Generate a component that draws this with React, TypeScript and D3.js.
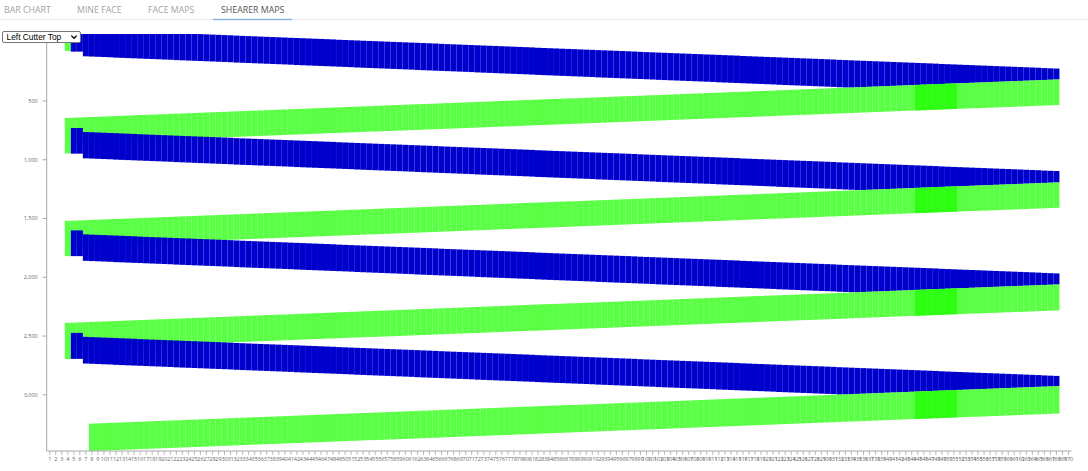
import React from "react";
import * as d3 from "d3";

// ---------- categories / labels ----------
const chocks = [1,2,3,4,5,6,7,8,9,10,11,12,13,14,15,16,17,18,19,20,21,22,23,24,25,26,27,28,29,30,31,32,33,34,35,36,37,38,39,40,41,42,43,44,45,46,47,48,49,50,51,52,53,54,55,56,57,58,59,60,61,62,63,64,65,66,67,68,69,70,71,72,73,74,75,76,77,78,79,80,81,82,83,84,85,86,87,88,89,90,91,92,93,94,95,96,97,98,99,100,101,102,103,104,105,106,107,108,109,110,111,112,113,114,115,116,117,118,119,120,121,122,123,124,125,126,127,128,129,130,131,132,133,134,135,136,137,138,139,140,141,142,143,144,145,146,147,148,149,150,151,152,153,154,155,156,157,158,159,160,161,162,163,164,165,166,167,168,169,170];
const tabLabels = ["BAR CHART", "MINE FACE", "FACE MAPS", "SHEARER MAPS"];
const activeTab = "SHEARER MAPS";
const cutterOptions = ["Left Cutter Top", "Left Cutter Bottom", "Right Cutter Top", "Right Cutter Bottom"];
const yTickValues = [0, 500, 1000, 1500, 2000, 2500, 3000];
const yLabelledTicks = [500, 1000, 1500, 2000, 2500, 3000];
const reworkChocks = [145, 146, 147, 148, 149, 150, 151];

// ---------- passes (start / end per chock) ----------
const g0Start = [-70];
const g0End = [74];

const b1Start = [-70,-70,-70,-70,-70,-70,-70,-70,-70,-70,-70,-70,-70,-70,-70,-70,-70,-70,-70,-70,-70,-69,-67,-65,-63,-61,-59,-56,-54,-52,-50,-48,-46,-44,-42,-40,-38,-36,-34,-32,-30,-28,-26,-24,-21,-19,-17,-15,-13,-11,-9,-7,-5,-3,-1,1,3,5,7,9,11,14,16,18,20,22,24,26,28,30,32,34,36,38,40,42,44,47,49,51,53,55,57,59,61,63,65,67,69,71,73,75,77,79,82,84,86,88,90,92,94,96,98,100,102,104,106,108,110,112,114,117,119,121,123,125,127,129,131,133,135,137,139,141,143,145,147,150,152,154,156,158,160,162,164,166,168,170,172,174,176,178,180,182,185,187,189,191,193,195,197,199,201,203,205,207,209,211,213,215,217,220,222,224];
const b1End = [80,80,120,122,124,126,128,131,133,135,137,139,141,143,145,147,149,152,154,156,158,160,162,164,166,168,170,173,175,177,179,181,183,185,187,189,191,194,196,198,200,202,204,206,208,210,212,215,217,219,221,223,225,227,229,231,233,236,238,240,242,244,246,248,250,252,254,257,259,261,263,265,267,269,271,273,275,278,280,282,284,286,288,290,292,294,296,299,301,303,305,307,309,311,313,315,317,320,322,324,326,328,330,332,334,336,338,341,343,345,347,349,351,353,355,357,359,362,364,366,368,370,372,374,376,378,380,383,385,385,383,381,379,377,375,373,371,369,367,365,363,361,359,357,355,353,351,349,347,345,343,341,339,337,335,333,331,329,327,325,323,321,319,317];

const g1Start = [644,642,640,638,636,634,632,630,628,626,624,622,620,618,616,614,612,610,608,606,604,602,600,598,596,594,592,590,588,586,584,582,580,578,576,574,572,570,568,566,564,562,560,558,556,554,552,550,548,546,544,542,540,538,536,534,532,530,528,526,524,522,520,518,516,514,512,510,508,506,504,502,500,498,496,494,492,490,488,486,484,482,480,478,477,475,473,471,469,467,465,463,461,459,457,455,453,451,449,447,445,443,441,439,437,435,433,431,429,427,425,423,421,419,417,415,413,411,409,407,405,403,401,399,397,395,393,391,389,387,385,383,381,379,377,375,373,371,369,367,365,363,361,359,357,355,353,351,349,347,345,343,341,339,337,335,333,331,329,327,325,323,321,319,317];
const g1End = [946,859,857,855,853,851,849,847,845,843,841,839,837,835,833,831,829,827,825,823,821,819,817,815,813,811,809,807,805,803,801,799,797,795,793,791,789,787,785,783,781,779,777,775,773,771,769,767,765,763,761,760,758,756,754,752,750,748,746,744,742,740,738,736,734,732,730,728,726,724,722,720,718,716,714,712,710,708,706,704,702,700,698,696,694,692,690,688,686,684,682,680,678,676,674,672,670,668,666,664,662,660,658,656,654,652,650,648,646,644,642,640,638,636,634,632,630,628,626,624,622,620,618,616,614,612,610,608,606,604,602,600,598,596,594,592,590,588,586,584,582,580,578,576,574,572,570,568,566,564,562,561,559,557,555,553,551,549,547,545,543,541,539,537,535];

const b2Start = [730,730,764,766,768,770,772,774,776,778,780,783,785,787,789,791,793,795,797,799,801,803,805,807,809,811,813,816,818,820,822,824,826,828,830,832,834,836,838,840,842,844,846,848,851,853,855,857,859,861,863,865,867,869,871,873,875,877,879,881,883,886,888,890,892,894,896,898,900,902,904,906,908,910,912,914,916,919,921,923,925,927,929,931,933,935,937,939,941,943,945,947,949,951,954,956,958,960,962,964,966,968,970,972,974,976,978,980,982,984,986,989,991,993,995,997,999,1001,1003,1005,1007,1009,1011,1013,1015,1017,1019,1022,1024,1026,1028,1030,1032,1034,1036,1038,1040,1042,1044,1046,1048,1050,1052,1054,1057,1059,1061,1063,1065,1067,1069,1071,1073,1075,1077,1079,1081,1083,1085,1087,1089,1092,1094,1096];
const b2End = [948,948,988,990,992,994,996,999,1001,1003,1005,1007,1009,1011,1013,1015,1017,1020,1022,1024,1026,1028,1030,1032,1034,1036,1038,1041,1043,1045,1047,1049,1051,1053,1055,1057,1059,1062,1064,1066,1068,1070,1072,1074,1076,1078,1080,1083,1085,1087,1089,1091,1093,1095,1097,1099,1101,1104,1106,1108,1110,1112,1114,1116,1118,1120,1122,1125,1127,1129,1131,1133,1135,1137,1139,1141,1143,1146,1148,1150,1152,1154,1156,1158,1160,1162,1164,1167,1169,1171,1173,1175,1177,1179,1181,1183,1185,1188,1190,1192,1194,1196,1198,1200,1202,1204,1206,1209,1211,1213,1215,1217,1219,1221,1223,1225,1227,1230,1232,1234,1236,1238,1240,1242,1244,1246,1248,1251,1253,1255,1257,1257,1255,1253,1251,1249,1247,1245,1243,1241,1239,1237,1235,1233,1231,1229,1227,1225,1223,1221,1219,1217,1215,1213,1211,1209,1207,1205,1203,1201,1199,1197,1195,1193];

const g2Start = [1520,1518,1516,1514,1512,1510,1508,1506,1504,1502,1500,1498,1496,1494,1492,1490,1488,1486,1484,1482,1480,1478,1476,1474,1472,1470,1468,1466,1464,1462,1460,1458,1456,1454,1452,1450,1448,1446,1444,1442,1440,1438,1436,1434,1432,1430,1428,1426,1424,1422,1420,1418,1416,1414,1412,1410,1408,1406,1404,1402,1400,1398,1396,1394,1392,1390,1388,1386,1384,1382,1380,1378,1376,1374,1372,1370,1368,1366,1364,1362,1360,1358,1356,1354,1353,1351,1349,1347,1345,1343,1341,1339,1337,1335,1333,1331,1329,1327,1325,1323,1321,1319,1317,1315,1313,1311,1309,1307,1305,1303,1301,1299,1297,1295,1293,1291,1289,1287,1285,1283,1281,1279,1277,1275,1273,1271,1269,1267,1265,1263,1261,1259,1257,1255,1253,1251,1249,1247,1245,1243,1241,1239,1237,1235,1233,1231,1229,1227,1225,1223,1221,1219,1217,1215,1213,1211,1209,1207,1205,1203,1201,1199,1197,1195,1193];
const g2End = [1820,1733,1731,1729,1727,1725,1723,1721,1719,1717,1715,1713,1711,1709,1707,1705,1703,1701,1699,1697,1695,1693,1691,1689,1687,1685,1683,1681,1679,1677,1675,1673,1671,1669,1667,1665,1663,1661,1659,1657,1655,1653,1651,1649,1647,1645,1643,1641,1639,1637,1635,1634,1632,1630,1628,1626,1624,1622,1620,1618,1616,1614,1612,1610,1608,1606,1604,1602,1600,1598,1596,1594,1592,1590,1588,1586,1584,1582,1580,1578,1576,1574,1572,1570,1568,1566,1564,1562,1560,1558,1556,1554,1552,1550,1548,1546,1544,1542,1540,1538,1536,1534,1532,1530,1528,1526,1524,1522,1520,1518,1516,1514,1512,1510,1508,1506,1504,1502,1500,1498,1496,1494,1492,1490,1488,1486,1484,1482,1480,1478,1476,1474,1472,1470,1468,1466,1464,1462,1460,1458,1456,1454,1452,1450,1448,1446,1444,1442,1440,1438,1436,1435,1433,1431,1429,1427,1425,1423,1421,1419,1417,1415,1413,1411,1409];

const b3Start = [1601,1601,1635,1637,1639,1641,1643,1645,1647,1649,1651,1654,1656,1658,1660,1662,1664,1666,1668,1670,1672,1674,1676,1678,1680,1682,1684,1687,1689,1691,1693,1695,1697,1699,1701,1703,1705,1707,1709,1711,1713,1715,1717,1719,1722,1724,1726,1728,1730,1732,1734,1736,1738,1740,1742,1744,1746,1748,1750,1752,1754,1757,1759,1761,1763,1765,1767,1769,1771,1773,1775,1777,1779,1781,1783,1785,1787,1790,1792,1794,1796,1798,1800,1802,1804,1806,1808,1810,1812,1814,1816,1818,1820,1822,1825,1827,1829,1831,1833,1835,1837,1839,1841,1843,1845,1847,1849,1851,1853,1855,1857,1860,1862,1864,1866,1868,1870,1872,1874,1876,1878,1880,1882,1884,1886,1888,1890,1893,1895,1897,1899,1901,1903,1905,1907,1909,1911,1913,1915,1917,1919,1921,1923,1925,1928,1930,1932,1934,1936,1938,1940,1942,1944,1946,1948,1950,1952,1954,1956,1958,1960,1963,1965,1967];
const b3End = [1820,1820,1860,1862,1864,1866,1868,1871,1873,1875,1877,1879,1881,1883,1885,1887,1889,1892,1894,1896,1898,1900,1902,1904,1906,1908,1910,1913,1915,1917,1919,1921,1923,1925,1927,1929,1931,1934,1936,1938,1940,1942,1944,1946,1948,1950,1952,1955,1957,1959,1961,1963,1965,1967,1969,1971,1973,1976,1978,1980,1982,1984,1986,1988,1990,1992,1994,1997,1999,2001,2003,2005,2007,2009,2011,2013,2015,2018,2020,2022,2024,2026,2028,2030,2032,2034,2036,2039,2041,2043,2045,2047,2049,2051,2053,2055,2057,2060,2062,2064,2066,2068,2070,2072,2074,2076,2078,2081,2083,2085,2087,2089,2091,2093,2095,2097,2099,2102,2104,2106,2108,2110,2112,2114,2116,2118,2120,2123,2125,2127,2127,2125,2123,2121,2119,2117,2115,2113,2111,2109,2107,2105,2103,2101,2099,2097,2095,2093,2091,2089,2087,2085,2083,2081,2079,2077,2075,2073,2071,2069,2067,2065,2063,2061];

const g3Start = [2388,2386,2384,2382,2380,2378,2376,2374,2372,2370,2368,2366,2364,2362,2360,2358,2356,2354,2352,2350,2348,2346,2344,2342,2340,2338,2336,2334,2332,2330,2328,2326,2324,2322,2320,2318,2316,2314,2312,2310,2308,2306,2304,2302,2300,2298,2296,2294,2292,2290,2288,2286,2284,2282,2280,2278,2276,2274,2272,2270,2268,2266,2264,2262,2260,2258,2256,2254,2252,2250,2248,2246,2244,2242,2240,2238,2236,2234,2232,2230,2228,2226,2224,2222,2221,2219,2217,2215,2213,2211,2209,2207,2205,2203,2201,2199,2197,2195,2193,2191,2189,2187,2185,2183,2181,2179,2177,2175,2173,2171,2169,2167,2165,2163,2161,2159,2157,2155,2153,2151,2149,2147,2145,2143,2141,2139,2137,2135,2133,2131,2129,2127,2125,2123,2121,2119,2117,2115,2113,2111,2109,2107,2105,2103,2101,2099,2097,2095,2093,2091,2089,2087,2085,2083,2081,2079,2077,2075,2073,2071,2069,2067,2065,2063,2061];
const g3End = [2695,2606,2604,2602,2600,2598,2596,2594,2592,2590,2588,2586,2584,2582,2580,2578,2576,2574,2572,2570,2568,2566,2564,2562,2560,2558,2556,2554,2552,2550,2548,2546,2544,2542,2540,2538,2536,2534,2532,2530,2528,2526,2524,2522,2520,2518,2516,2514,2512,2510,2508,2507,2505,2503,2501,2499,2497,2495,2493,2491,2489,2487,2485,2483,2481,2479,2477,2475,2473,2471,2469,2467,2465,2463,2461,2459,2457,2455,2453,2451,2449,2447,2445,2443,2441,2439,2437,2435,2433,2431,2429,2427,2425,2423,2421,2419,2417,2415,2413,2411,2409,2407,2405,2403,2401,2399,2397,2395,2393,2391,2389,2387,2385,2383,2381,2379,2377,2375,2373,2371,2369,2367,2365,2363,2361,2359,2357,2355,2353,2351,2349,2347,2345,2343,2341,2339,2337,2335,2333,2331,2329,2327,2325,2323,2321,2319,2317,2315,2313,2311,2309,2308,2306,2304,2302,2300,2298,2296,2294,2292,2290,2288,2286,2284,2282];

const b4Start = [2473,2473,2507,2509,2511,2513,2515,2517,2519,2521,2523,2526,2528,2530,2532,2534,2536,2538,2540,2542,2544,2546,2548,2550,2552,2554,2556,2559,2561,2563,2565,2567,2569,2571,2573,2575,2577,2579,2581,2583,2585,2587,2589,2591,2594,2596,2598,2600,2602,2604,2606,2608,2610,2612,2614,2616,2618,2620,2622,2624,2626,2629,2631,2633,2635,2637,2639,2641,2643,2645,2647,2649,2651,2653,2655,2657,2659,2662,2664,2666,2668,2670,2672,2674,2676,2678,2680,2682,2684,2686,2688,2690,2692,2694,2697,2699,2701,2703,2705,2707,2709,2711,2713,2715,2717,2719,2721,2723,2725,2727,2729,2732,2734,2736,2738,2740,2742,2744,2746,2748,2750,2752,2754,2756,2758,2760,2762,2765,2767,2769,2771,2773,2775,2777,2779,2781,2783,2785,2787,2789,2791,2793,2795,2797,2800,2802,2804,2806,2808,2810,2812,2814,2816,2818,2820,2822,2824,2826,2828,2830,2832,2835,2837,2839];
const b4End = [2694,2694,2734,2736,2738,2740,2742,2745,2747,2749,2751,2753,2755,2757,2759,2761,2763,2766,2768,2770,2772,2774,2776,2778,2780,2782,2784,2787,2789,2791,2793,2795,2797,2799,2801,2803,2805,2808,2810,2812,2814,2816,2818,2820,2822,2824,2826,2829,2831,2833,2835,2837,2839,2841,2843,2845,2847,2850,2852,2854,2856,2858,2860,2862,2864,2866,2868,2871,2873,2875,2877,2879,2881,2883,2885,2887,2889,2892,2894,2896,2898,2900,2902,2904,2906,2908,2910,2913,2915,2917,2919,2921,2923,2925,2927,2929,2931,2934,2936,2938,2940,2942,2944,2946,2948,2950,2952,2955,2957,2959,2961,2963,2965,2967,2969,2971,2973,2976,2978,2980,2982,2984,2986,2988,2990,2992,2994,2997,2996,2994,2992,2990,2988,2986,2984,2982,2980,2978,2976,2974,2972,2970,2968,2966,2964,2962,2960,2958,2956,2954,2952,2950,2948,2946,2944,2942,2940,2938,2936,2934,2932,2930,2928,2926];

const g4Start = [3245,3243,3241,3239,3237,3235,3233,3231,3229,3227,3225,3223,3221,3219,3217,3215,3213,3211,3209,3207,3205,3203,3201,3199,3197,3195,3193,3191,3189,3187,3185,3183,3181,3179,3177,3175,3173,3171,3169,3167,3165,3163,3161,3159,3157,3155,3153,3151,3149,3147,3145,3143,3141,3139,3137,3135,3133,3131,3129,3127,3125,3123,3121,3119,3117,3115,3113,3111,3109,3107,3105,3103,3101,3099,3097,3095,3093,3091,3089,3087,3086,3084,3082,3080,3078,3076,3074,3072,3070,3068,3066,3064,3062,3060,3058,3056,3054,3052,3050,3048,3046,3044,3042,3040,3038,3036,3034,3032,3030,3028,3026,3024,3022,3020,3018,3016,3014,3012,3010,3008,3006,3004,3002,3000,2998,2996,2994,2992,2990,2988,2986,2984,2982,2980,2978,2976,2974,2972,2970,2968,2966,2964,2962,2960,2958,2956,2954,2952,2950,2948,2946,2944,2942,2940,2938,2936,2934,2932,2930,2928,2926];
const g4End = [3478,3476,3474,3472,3470,3468,3466,3464,3462,3460,3458,3456,3454,3452,3450,3448,3446,3444,3442,3440,3438,3436,3434,3432,3430,3428,3426,3424,3422,3420,3418,3416,3414,3412,3410,3408,3406,3404,3402,3400,3398,3396,3394,3392,3390,3388,3386,3385,3383,3381,3379,3377,3375,3373,3371,3369,3367,3365,3363,3361,3359,3357,3355,3353,3351,3349,3347,3345,3343,3341,3339,3337,3335,3333,3331,3329,3327,3325,3323,3321,3319,3317,3315,3313,3311,3309,3307,3305,3303,3301,3299,3297,3295,3293,3291,3289,3287,3285,3283,3281,3279,3277,3275,3273,3271,3269,3267,3265,3263,3261,3259,3257,3255,3253,3251,3249,3247,3245,3243,3241,3239,3237,3235,3233,3231,3229,3227,3225,3223,3221,3219,3217,3215,3213,3211,3209,3207,3205,3203,3201,3199,3197,3195,3193,3191,3189,3187,3186,3184,3182,3180,3178,3176,3174,3172,3170,3168,3166,3164,3162,3160];

const passList = [
  { name: "G0", dir: "MG", first: 4, start: g0Start, end: g0End },
  { name: "B1", dir: "TG", first: 5, start: b1Start, end: b1End },
  { name: "G1", dir: "MG", first: 4, start: g1Start, end: g1End },
  { name: "B2", dir: "TG", first: 5, start: b2Start, end: b2End },
  { name: "G2", dir: "MG", first: 4, start: g2Start, end: g2End },
  { name: "B3", dir: "TG", first: 5, start: b3Start, end: b3End },
  { name: "G3", dir: "MG", first: 4, start: g3Start, end: g3End },
  { name: "B4", dir: "TG", first: 5, start: b4Start, end: b4End },
  { name: "G4", dir: "MG", first: 8, start: g4Start, end: g4End },
];

type Row = { key: string; dir: string; chock: number; start: number; end: number };

const W = 1088;
const H = 471;
const PLOT_LEFT = 46.7;
const PLOT_RIGHT = 1071.5;
const PLOT_TOP = 34;
const PLOT_BOTTOM = 451;

export default function App() {
  const rows: Row[] = [];
  passList.forEach((p) => {
    p.start.forEach((s, i) => {
      const chock = p.first + i;
      rows.push({ key: `${p.name}-${chock}`, dir: p.dir, chock, start: s, end: p.end[i] });
      if (p.dir === "MG" && p.name !== "G0" && reworkChocks.includes(chock)) {
        rows.push({ key: `${p.name}-${chock}-r`, dir: p.dir, chock, start: s, end: p.end[i] });
      }
    });
  });

  const x = d3.scaleBand<number>().domain(chocks).range([PLOT_LEFT, PLOT_RIGHT]).padding(0);
  const y = d3
    .scaleLinear()
    .domain([d3.min(rows, (d) => d.start) as number, d3.max(rows, (d) => d.end) as number])
    .range([PLOT_TOP, PLOT_BOTTOM]);
  const bw = x.bandwidth();
  const fmt = d3.format(",");

  const tabX = [4, 77, 148, 221];
  const axisColor = "#a8a8a8";
  const labelColor = "#666";

  return (
    <div style={{ position: "absolute", left: 0, top: 0, width: W, height: H, background: "#fff", overflow: "hidden" }}>
      <svg width={W} height={H} style={{ display: "block" }}>
        {/* tabs */}
        <line x1={0} x2={W} y1={19.5} y2={19.5} stroke="#e8e8e8" strokeWidth={1} />
        {tabLabels.map((t, i) => (
          <text
            key={t}
            x={tabX[i]}
            y={12.7}
            fontFamily="'Open Sans', sans-serif"
            fontSize={8.8}
            fill={t === activeTab ? "#555" : "#a3a3a3"}
          >
            {t}
          </text>
        ))}
        <line x1={213} x2={292} y1={19.5} y2={19.5} stroke="#8db6de" strokeWidth={1.5} />

        {/* bars */}
        <g>
          {rows.map((d) => (
            <rect
              key={d.key}
              x={x(d.chock) as number}
              width={bw}
              y={y(d.start)}
              height={Math.max(0, y(d.end) - y(d.start))}
              fill={d.dir === "TG" ? "#0000cd" : "rgb(30,255,0)"}
              fillOpacity={d.dir === "TG" ? 1 : 0.73}
            />
          ))}
        </g>

        {/* y axis */}
        <g>
          <line x1={PLOT_LEFT} x2={PLOT_LEFT} y1={PLOT_TOP} y2={PLOT_BOTTOM} stroke={axisColor} strokeWidth={1} />
          {yTickValues.map((v) => (
            <g key={v} transform={`translate(0,${y(v)})`}>
              <line x1={PLOT_LEFT - 4} x2={PLOT_LEFT} y1={0} y2={0} stroke={axisColor} strokeWidth={1} />
              {yLabelledTicks.includes(v) && (
                <text x={PLOT_LEFT - 9} y={0} dy="0.32em" textAnchor="end" fontFamily="'Open Sans', sans-serif" fontSize={5.5} fill={labelColor}>
                  {fmt(v)}
                </text>
              )}
            </g>
          ))}
        </g>

        {/* x axis */}
        <g>
          <line x1={PLOT_LEFT} x2={PLOT_RIGHT} y1={PLOT_BOTTOM} y2={PLOT_BOTTOM} stroke={axisColor} strokeWidth={1} />
          {chocks.map((c) => {
            const cx = (x(c) as number) + bw / 2;
            return (
              <g key={c} transform={`translate(${cx},${PLOT_BOTTOM})`}>
                <line x1={0} x2={0} y1={0} y2={4} stroke={axisColor} strokeWidth={0.8} />
                <text x={0} y={9.8} textAnchor="middle" fontFamily="'Open Sans', sans-serif" fontSize={5.5} fill={labelColor}>
                  {c}
                </text>
              </g>
            );
          })}
        </g>

        {/* cutter selector */}
        <g>
          <rect x={2.5} y={31.5} width={78} height={11} rx={1.5} fill="#fff" stroke="#767676" strokeWidth={1} />
          <text x={6.5} y={39.8} fontFamily="'Liberation Sans', Arial, sans-serif" fontSize={8.4} fill="#000">
            {cutterOptions[0]}
          </text>
          <path d="M71.3,35.6 L74,38.3 L76.7,35.6" fill="none" stroke="#000" strokeWidth={1.3} />
        </g>
      </svg>
    </div>
  );
}
